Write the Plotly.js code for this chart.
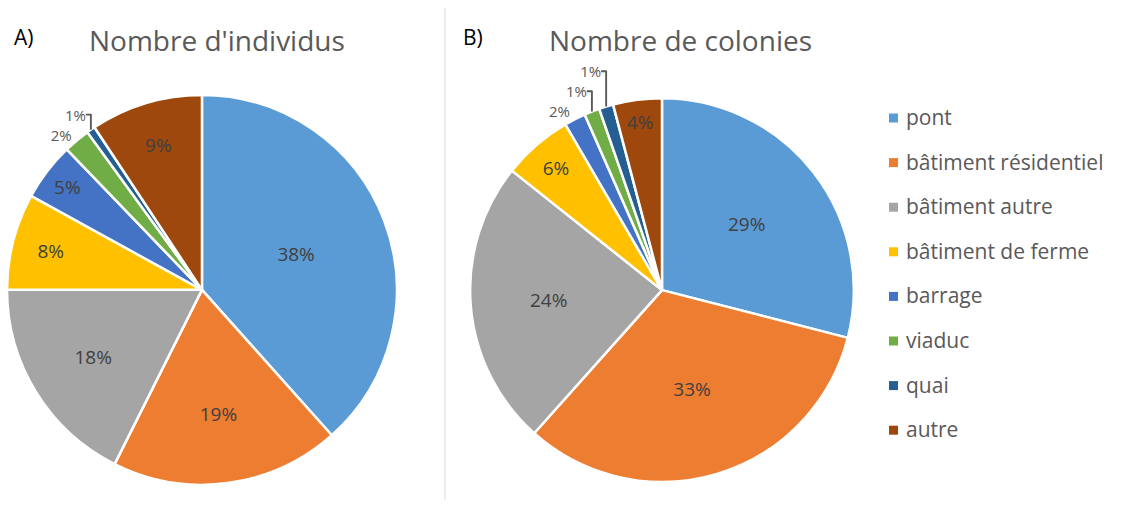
<!DOCTYPE html>
<html><head><meta charset="utf-8">
<script src="https://cdn.plot.ly/plotly-3.0.1.min.js"></script>
<style>html,body{margin:0;padding:0;background:#fff}#chart{width:1122px;height:505px}</style>
</head><body><div id="chart"></div>
<script>
const categories = ['pont','bâtiment résidentiel','bâtiment autre','bâtiment de ferme','barrage','viaduc','quai','autre'];
const individus = [38.4, 19.0, 17.6, 8.0, 4.8, 2.2, 0.7, 9.3];
const colonies = [29.0, 32.6, 24.1, 5.9, 1.8, 1.3, 1.2, 4.1];
const colors = ['#5B9BD5','#ED7D31','#A5A5A5','#FFC000','#4472C4','#70AD47','#255E91','#9E480E'];
const titleA = "Nombre d'individus";
const titleB = 'Nombre de colonies';

const FONT = '"Open Sans", "Noto Sans", sans-serif';
function pie(values, dom, posArr){
  return {
    type:'pie', labels:categories, values:values, sort:false, direction:'clockwise', rotation:0,
    marker:{colors:colors, line:{color:'#ffffff', width:2.5}},
    texttemplate:'%{percent:.0%}', textposition:posArr,
    insidetextorientation:'horizontal',
    insidetextfont:{family:FONT, size:19, color:'#404040'},
    outsidetextfont:{family:FONT, size:15, color:'#595959'},
    domain:dom, showlegend:false, hoverinfo:'label+percent'
  };
}
const posA = ['inside','inside','inside','inside','inside','outside','outside','inside'];
const posB = ['inside','inside','inside','inside','outside','outside','outside','inside'];
const data = [
  pie(individus, {x:[0.006,0.354], y:[0.04,0.812]}, posA),
  pie(colonies, {x:[0.419,0.761], y:[0.045,0.806]}, posB)
];
const annotations = [
  {text:titleA, x:217/1122, y:1-40/505, xref:'paper', yref:'paper', showarrow:false, xanchor:'center', yanchor:'middle', font:{family:FONT, size:28, color:'#595959'}},
  {text:titleB, x:680/1122, y:1-40/505, xref:'paper', yref:'paper', showarrow:false, xanchor:'center', yanchor:'middle', font:{family:FONT, size:28, color:'#595959'}},
  {text:'A)', x:12/1122, y:1-37/505, xref:'paper', yref:'paper', showarrow:false, xanchor:'left', yanchor:'middle', font:{family:FONT, size:21, color:'#000'}},
  {text:'B)', x:461/1122, y:1-37/505, xref:'paper', yref:'paper', showarrow:false, xanchor:'left', yanchor:'middle', font:{family:FONT, size:21, color:'#000'}}
];
const shapes = [
  {type:'line', xref:'paper', yref:'paper', x0:445/1122, x1:445/1122, y0:0.01, y1:0.985, line:{color:'#D9D9D9', width:1}}
];
// legend built from categories
const legTop = 118, legGap = 44.6;
categories.forEach((c,i)=>{
  const yc = legTop + i*legGap;
  shapes.push({type:'rect', xref:'paper', yref:'paper', x0:889/1122, x1:898/1122, y0:1-(yc+4.5)/505, y1:1-(yc-4.5)/505, fillcolor:colors[i], line:{width:0}});
  annotations.push({text:c, x:904/1122, y:1-(yc-1)/505, xref:'paper', yref:'paper', showarrow:false, xanchor:'left', yanchor:'middle', font:{family:FONT, size:21, color:'#595959'}});
});
Plotly.newPlot('chart', data, {
  width:1122, height:505, margin:{l:0,r:0,t:0,b:0}, paper_bgcolor:'#fff',
  showlegend:false, annotations:annotations, shapes:shapes
}, {staticPlot:true});
</script></body></html>
